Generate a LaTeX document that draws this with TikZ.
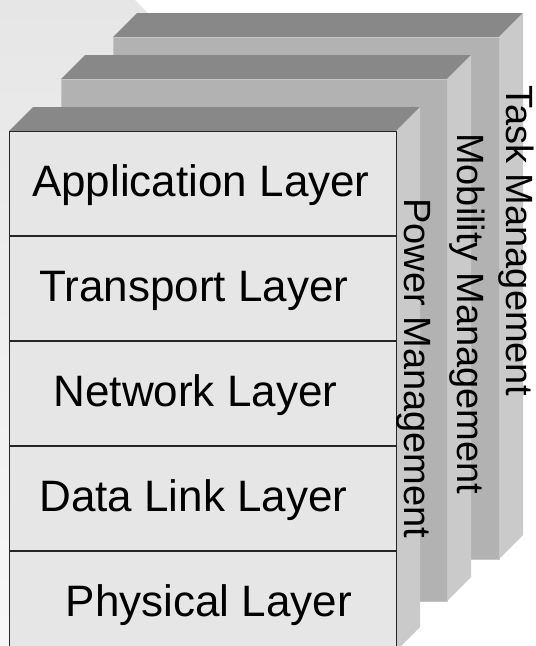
\documentclass[tikz,border=0pt]{standalone}
\usepackage{fontspec}
\setmainfont{Liberation Sans}
\usetikzlibrary{positioning}

\definecolor{topgray}{HTML}{888888}
\definecolor{facegray}{HTML}{B2B2B2}
\definecolor{sidegray}{HTML}{CACACA}
\definecolor{layergray}{HTML}{E6E6E6}
\definecolor{backgray}{HTML}{E6E6E6}

\begin{document}
\begin{tikzpicture}[x=1pt, y=-1pt]
                    \tikzstyle{layer} = [draw=black!85, fill=layergray, line width=0.9pt, minimum width=387pt, minimum height=104pt, inner sep=0pt, text height=31pt, text depth=4pt, font=\fontsize{44}{50}\selectfont]
                    \tikzstyle{mgmt} = [rotate=-90, anchor=base west, inner sep=0pt, font=\fontsize{38}{44}\selectfont]
                    \tikzstyle{topface} = [fill=topgray]
                    \tikzstyle{frontface} = [fill=facegray, draw=gray!45, line width=0.6pt]
                    \tikzstyle{sideface} = [fill=sidegray]
                    \useasboundingbox (0,0) rectangle (536,646);
                    \clip (0,0) rectangle (536,646);
                    \shade[top color=backgray, bottom color=white!97!black] (0,0) -- (135,0) -- (300,165) -- (300,646) -- (0,646) -- cycle;

                    \fill[topface] (113,37) -- (137,13) -- (523,13) -- (499,37) -- cycle;
                    \fill[sideface] (499,37) -- (523,13) -- (523,535) -- (499,559) -- cycle;
                    \filldraw[frontface] (113,37) rectangle (499,559);

                    \fill[topface] (61,79) -- (85,55) -- (471,55) -- (447,79) -- cycle;
                    \fill[sideface] (447,79) -- (471,55) -- (471,577) -- (447,601) -- cycle;
                    \filldraw[frontface] (61,79) rectangle (447,601);

                    \fill[topface] (9,131) -- (33,107) -- (420,107) -- (396,131) -- cycle;
                    \fill[sideface] (396,131) -- (420,107) -- (420,627) -- (396,651) -- cycle;

                    \node[layer, anchor=north west] (app) at (9,131) {Application Layer\hspace*{4pt}};
                    \node[layer, below=0pt of app] (trans) {Transport Layer\hspace*{18pt}};
                    \node[layer, below=0pt of trans] (net) {Network Layer\hspace*{15pt}};
                    \node[layer, below=0pt of net] (link) {Data Link Layer\hspace*{19pt}};
                    \node[layer, below=0pt of link] (phys) {\hspace*{12pt}Physical Layer};

                    \node[mgmt] (task) at (506,85) {Task Management};
                    \node[mgmt] (mobility) at (457,133) {Mobility Management};
                    \node[mgmt] (power) at (404,198) {Power Management};
                \end{tikzpicture}
\end{document}
